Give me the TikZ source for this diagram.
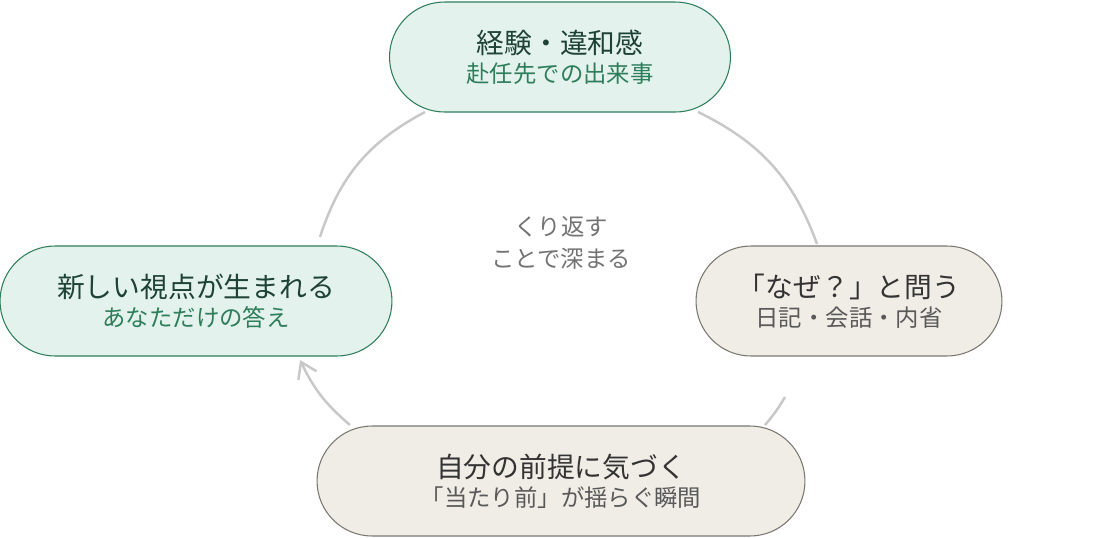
\documentclass[tikz,border=0pt]{standalone}
\usepackage{fontspec}
\setmainfont{Noto Sans CJK JP}
\usetikzlibrary{arrows.meta}
\definecolor{greenfill}{HTML}{E3F2EC}
\definecolor{greenline}{HTML}{2E7D5B}
\definecolor{greentext}{HTML}{1E4236}
\definecolor{beigefill}{HTML}{F0EDE6}
\definecolor{beigeline}{HTML}{7A7670}
\definecolor{arcgray}{HTML}{C8C8C8}
\tikzset{
  pill/.style={rectangle, rounded corners=1.1cm, minimum height=2.2cm, align=center, line width=0.6pt},
  greenpill/.style={pill, fill=greenfill, draw=greenline},
  beigepill/.style={pill, fill=beigefill, draw=beigeline},
  loop/.style={draw=arcgray, line width=1.4pt},
}
\newcommand{\ttl}[1]{{\fontsize{15.8}{20}\selectfont #1}}
\newcommand{\sub}[1]{{\fontsize{13.3}{20}\selectfont #1}}
\begin{document}
\begin{tikzpicture}[x=0.02cm,y=-0.02cm]
			\useasboundingbox (0,0) rectangle (1100,538);

			%arc ends
			\coordinate (a1) at (320,237);
			\coordinate (a2) at (425,112);
			\coordinate (b1) at (698,112);
			\coordinate (b2) at (817,244);
			\coordinate (c1) at (785,397);
			\coordinate (c2) at (765,425);
			\coordinate (d1) at (350,425);
			\coordinate (d2) at (300,360);

			%arcs
			\draw[loop] (a1) to[bend left=22] (a2);
			\draw[loop] (b1) to[bend left=22] (b2);
			\draw[loop] (c1) to[bend left=5] (c2);
			\draw[loop, -{Straight Barb[length=3mm,width=4mm]}] (d1) to[bend left=12] (d2);

			%nodes
			\node[greenpill, minimum width=6.82cm] (exp) at (560,57)
				{\ttl{\color{greentext}経験・違和感}\\[3pt]\sub{\color{greenline}赴任先での出来事}};
			\node[beigepill, minimum width=6.12cm] (why) at (849,301)
				{\ttl{\color{black!80}「なぜ？」と問う}\\[3pt]\sub{\color{black!65}日記・会話・内省}};
			\node[beigepill, minimum width=9.76cm] (aware) at (561,481)
				{\ttl{\color{black!80}自分の前提に気づく}\\[3pt]\sub{\color{black!65}「当たり前」が揺らぐ瞬間}};
			\node[greenpill, minimum width=7.84cm] (view) at (196,301)
				{\ttl{\color{greentext}新しい視点が生まれる}\\[3pt]\sub{\color{greenline}あなただけの答え}};

			%center
			\node[align=center, text=black!55] (mid) at (561,243)
				{\sub{くり返す}\\[6pt]\sub{ことで深まる}};
\end{tikzpicture}
\end{document}
